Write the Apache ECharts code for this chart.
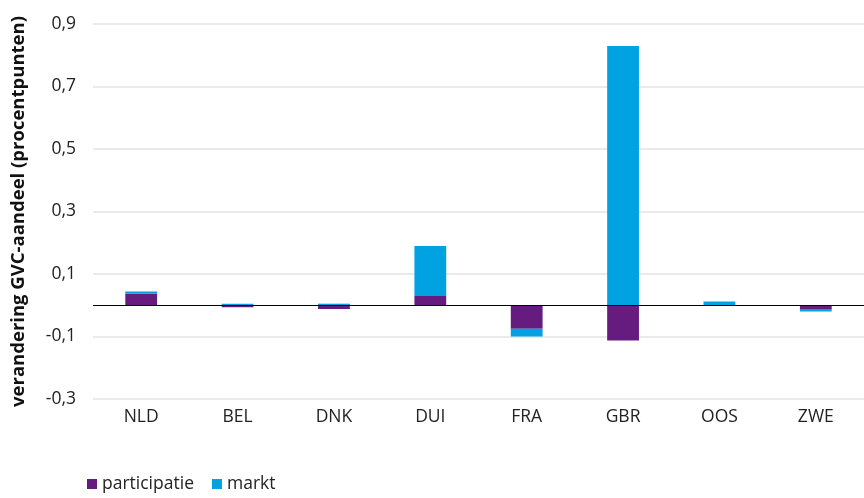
<!DOCTYPE html>
<html>
<head>
<meta charset="utf-8">
<script src="https://cdn.jsdelivr.net/npm/echarts@6/dist/echarts.min.js"></script>
<style>
  html, body { margin: 0; padding: 0; background: #fff; }
  #chart { width: 864px; height: 498px; }
</style>
</head>
<body>
<div id="chart"></div>
<script>
// landen
var categories = ['NLD', 'BEL', 'DNK', 'DUI', 'FRA', 'GBR', 'OOS', 'ZWE'];
// bijdrage participatie en markt (procentpunten)
var participatie = [0.037, -0.006, -0.012, 0.030, -0.075, -0.113, 0.001, -0.012];
var markt = [0.007, 0.005, 0.005, 0.160, -0.025, 0.830, 0.011, -0.008];

var fontFamily = '"Open Sans", "Noto Sans", sans-serif';

function fmt(v) {
	return v.toFixed(1).replace('.', ',');
}

var option = {
	animation: false,
	textStyle: { fontFamily: fontFamily },
	grid: {
		left: 93,
		right: 0,
		top: 24,
		bottom: 99,
		outerBoundsMode: 'none',
		containLabel: false
	},
	legend: {
		left: 82,
		top: 470,
		itemWidth: 10,
		itemHeight: 10,
		itemGap: 18,
		icon: 'rect',
		textStyle: { fontSize: 17.5, color: '#222', fontFamily: fontFamily },
		data: ['participatie', 'markt']
	},
	xAxis: {
		type: 'category',
		data: categories,
		axisLine: { show: false, onZero: false },
		axisTick: { show: false },
		axisLabel: { fontSize: 17.5, color: '#222', margin: 9, fontFamily: fontFamily }
	},
	yAxis: {
		type: 'value',
		min: -0.3,
		max: 0.9,
		interval: 0.2,
		name: 'verandering GVC-aandeel (procentpunten)',
		nameLocation: 'middle',
		nameGap: 65,
		nameTextStyle: { fontSize: 18.5, fontWeight: 'bold', color: '#111', fontFamily: fontFamily },
		axisLine: { show: false },
		axisTick: { show: false },
		axisLabel: {
			fontSize: 17.5,
			color: '#222',
			margin: 17,
			fontFamily: fontFamily,
			formatter: fmt
		},
		splitLine: { lineStyle: { color: '#e3e3e3', width: 1.5 } }
	},
	series: [
		{
			name: 'participatie',
			type: 'bar',
			stack: 'gvc',
			barWidth: '33%',
			itemStyle: { color: '#661c7e' },
			data: participatie
		},
		{
			name: 'markt',
			type: 'bar',
			stack: 'gvc',
			barWidth: '33%',
			itemStyle: { color: '#00a2e2' },
			data: markt,
			markLine: {
				silent: true,
				symbol: 'none',
				label: { show: false },
				lineStyle: { color: '#000', width: 1.2, type: 'solid' },
				data: [{ yAxis: 0 }]
			}
		}
	]
};

echarts.init(document.getElementById('chart')).setOption(option);
</script>
</body>
</html>
